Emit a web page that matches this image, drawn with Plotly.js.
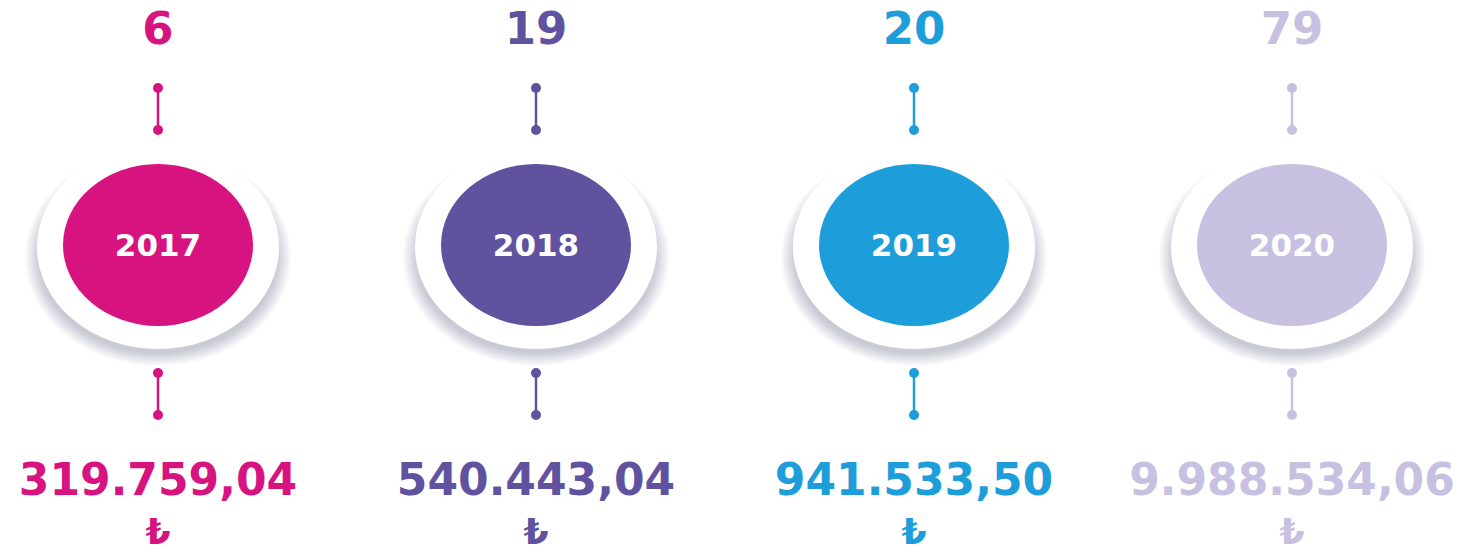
<!DOCTYPE html>
<html><head><meta charset="utf-8">
<script src="https://cdn.plot.ly/plotly-3.0.1.min.js"></script>
<style>html,body{margin:0;padding:0;background:#fff;overflow:hidden}#chart{width:1460px;height:552px}</style>
</head><body><div id="chart"></div>
<script>
// ---- data ----
const years = ['2017', '2018', '2019', '2020'];
const counts = [6, 19, 20, 79];
const amounts = [319759.04, 540443.04, 941533.50, 9988534.06];
const currencySymbol = '₺';
const colors = ['#D7137F', '#60529F', '#1D9DD9', '#C8C0E0'];

// Turkish number formatting: 1.234.567,89
function fmtTR(v) {
  const parts = v.toFixed(2).split('.');
  const intPart = parts[0].replace(/\B(?=(\d{3})+(?!\d))/g, '.');
  return intPart + ',' + parts[1];
}

const idx = years.map((_, i) => i);
const FONT = '"DejaVu Sans", Inter, sans-serif';

// layout rows (in pixel units of the y axis)
const rowCount = 33, conTop = [88, 130], circleY = 246, rowYear = 248, conBot = [373, 415], rowAmount = 484, rowCur = 535;

const traces = [];
// connectors
idx.forEach(i => {
  [conTop, conBot].forEach(c => {
    traces.push({
      type: 'scatter', mode: 'lines+markers',
      x: [i, i], y: c,
      line: {color: colors[i], width: 2.5},
      marker: {color: colors[i], size: 10},
      hoverinfo: 'skip', showlegend: false
    });
  });
});
// texts
traces.push({type: 'scatter', mode: 'text', x: idx, y: idx.map(() => rowCount),
  text: counts.map(String), textposition: 'middle center',
  textfont: {family: FONT, size: 45, color: colors, weight: 700}, hoverinfo: 'skip', showlegend: false});
traces.push({type: 'scatter', mode: 'text', x: idx, y: idx.map(() => rowYear),
  text: years, textposition: 'middle center',
  textfont: {family: FONT, size: 31, color: '#ffffff', weight: 700}, hoverinfo: 'skip', showlegend: false});
traces.push({type: 'scatter', mode: 'text', x: idx, y: idx.map(() => rowAmount),
  text: amounts.map(fmtTR), textposition: 'middle center',
  textfont: {family: FONT, size: 44, color: colors, weight: 700}, hoverinfo: 'skip', showlegend: false});
traces.push({type: 'scatter', mode: 'text', x: idx, y: idx.map(() => rowCur),
  text: idx.map(() => currencySymbol), textposition: 'middle center',
  textfont: {family: FONT, size: 36, color: colors, weight: 700}, hoverinfo: 'skip', showlegend: false});

// circle shapes
const shapes = [];
idx.forEach(i => {
  // soft shadow, mostly below the white disc
  for (let k = 0; k < 14; k++) {
    const rx = 119 + k * 1.1, ry = 96 + k * 1.0, cy = circleY + 11;
    shapes.push({type: 'circle', xref: 'x', yref: 'y', xsizemode: 'pixel', xanchor: i,
      x0: -rx, x1: rx, y0: cy - ry, y1: cy + ry,
      fillcolor: 'rgba(70,105,145,0.024)', line: {width: 0}, layer: 'below'});
  }
  shapes.push({type: 'circle', xref: 'x', yref: 'y', xsizemode: 'pixel', xanchor: i,
    x0: -121, x1: 121, y0: circleY - 101, y1: circleY + 103,
    fillcolor: '#ffffff', line: {width: 0}, layer: 'below'});
  shapes.push({type: 'circle', xref: 'x', yref: 'y', xsizemode: 'pixel', xanchor: i,
    x0: -95, x1: 95, y0: circleY - 82, y1: circleY + 80,
    fillcolor: colors[i], line: {width: 0}, layer: 'below'});
});

const layout = {
  width: 1460, height: 552,
  margin: {l: 0, r: 0, t: 0, b: 0},
  paper_bgcolor: '#ffffff', plot_bgcolor: '#ffffff',
  xaxis: {range: [-158 / 378, (1460 - 158) / 378], visible: false, fixedrange: true},
  yaxis: {range: [552, 0], visible: false, fixedrange: true},
  shapes: shapes,
  showlegend: false
};
Plotly.newPlot('chart', traces, layout, {displayModeBar: false, staticPlot: true});
</script>
</body></html>
